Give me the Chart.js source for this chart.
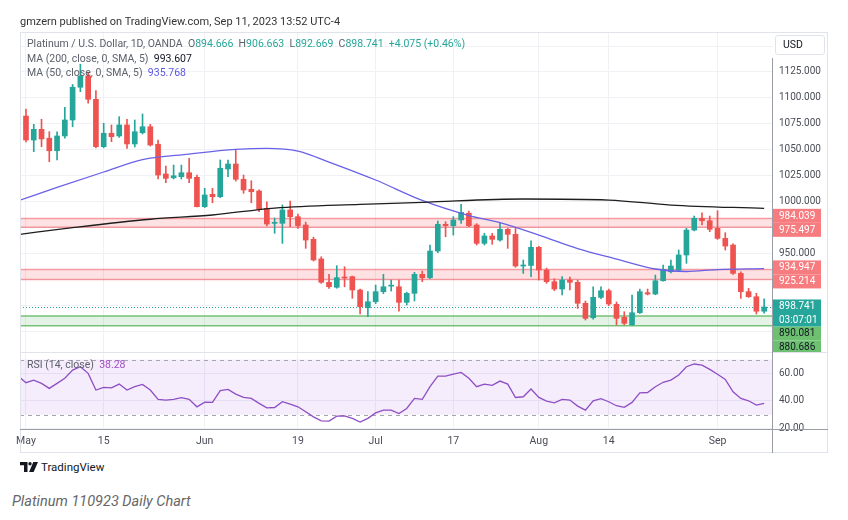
<!DOCTYPE html>
<html>
<head>
<meta charset="utf-8">
<script src="https://cdn.jsdelivr.net/npm/chart.js@4.4.0/dist/chart.umd.min.js"></script>
<style>
  body { margin: 0; background: #fff; font-family: Roboto, "DejaVu Sans", sans-serif; }
  #wrap { position: relative; width: 848px; height: 520px; overflow: hidden; background: #fff; }
  canvas { position: absolute; left: 0; }
  #main { top: 0; }
  #rsi { top: 352px; }
  .txt { position: absolute; white-space: nowrap; line-height: 14px; }
  .line { position: absolute; }
  .gray { color: #5d606b; }
</style>
</head>
<body>
<div id="wrap">
  <canvas id="main" width="848" height="352"></canvas>
  <canvas id="rsi" width="848" height="101"></canvas>

  <div class="line" style="left:20px;top:32px;width:808px;height:421px;border:1px solid #e0e3eb;box-sizing:border-box;"></div>
  <div class="line" style="left:20px;top:352px;width:808px;height:1px;background:#e0e3eb;"></div>
  <div class="line" style="left:20px;top:429px;width:808px;height:1px;background:#9a9da6;"></div>
  <div class="line" style="left:772px;top:58px;width:1px;height:395px;background:#9a9da6;"></div>

  <div class="txt" style="left:20px;top:15px;font-size:11px;color:#333;">gmzern published on TradingView.com, Sep 11, 2023 13:52 UTC-4</div>

  <div class="txt" id="leg1" style="left:27px;top:37px;font-size:10.5px;"></div>
  <div class="txt" id="leg2" style="left:27px;top:52px;font-size:10.5px;"></div>
  <div class="txt" id="leg3" style="left:27px;top:66px;font-size:10.5px;"></div>
  <div class="txt" id="leg4" style="left:27px;top:358px;font-size:10.5px;"></div>

  <div class="txt" style="left:775px;top:35px;width:50px;height:20px;border:1px solid #e0e3eb;border-radius:3px;box-sizing:border-box;font-size:10.5px;color:#131722;line-height:18px;padding-left:7px;">USD</div>

  <svg style="position:absolute;left:20px;top:462px;" width="19" height="10" viewBox="0 0 19 10">
    <path d="M0 0 H7.5 V10 H4 V3.2 H0 Z" fill="#131722"/>
    <circle cx="10" cy="1.7" r="1.7" fill="#131722"/>
    <path d="M13.3 0 H18 L13.6 10 H9.1 Z" fill="#131722"/>
  </svg>
  <div class="txt" style="left:41px;top:460px;font-size:11.5px;color:#131722;">TradingView</div>

  <div class="txt" style="left:12px;top:493px;font-size:14.5px;font-style:italic;color:#666;line-height:18px;">Platinum 110923 Daily Chart</div>
</div>

<script>
// trading days shown (Apr 28 partly cut at the left edge)
const dates = ['Apr 28','May 1','May 2','May 3','May 4','May 5','May 8','May 9','May 10','May 11','May 12',
  'May 15','May 16','May 17','May 18','May 19','May 22','May 23','May 24','May 25','May 26',
  'May 29','May 30','May 31','Jun 1','Jun 2','Jun 5','Jun 6','Jun 7','Jun 8','Jun 9',
  'Jun 12','Jun 13','Jun 14','Jun 15','Jun 16','Jun 19','Jun 20','Jun 21','Jun 22','Jun 23',
  'Jun 26','Jun 27','Jun 28','Jun 29','Jun 30','Jul 3','Jul 4','Jul 5','Jul 6','Jul 7',
  'Jul 10','Jul 11','Jul 12','Jul 13','Jul 14','Jul 17','Jul 18','Jul 19','Jul 20','Jul 21',
  'Jul 24','Jul 25','Jul 26','Jul 27','Jul 28','Jul 31','Aug 1','Aug 2','Aug 3','Aug 4',
  'Aug 7','Aug 8','Aug 9','Aug 10','Aug 11','Aug 14','Aug 15','Aug 16','Aug 17','Aug 18',
  'Aug 21','Aug 22','Aug 23','Aug 24','Aug 25','Aug 28','Aug 29','Aug 30','Aug 31','Sep 1',
  'Sep 4','Sep 5','Sep 6','Sep 7','Sep 8','Sep 11'];

const open = [1089.4, 1082.6, 1059.5, 1069.8, 1061.2, 1049.2, 1063.4, 1078.8, 1110.3, 1121.1, 1098.7,
  1053.1, 1066.0, 1063.4, 1074.0, 1055.7, 1066.5, 1072.3, 1055.4, 1026.8, 1023.1,
  1024.2, 1028.0, 1023.6, 995.3, 1007.2, 1004.9, 1031.6, 1036.4, 1021.7, 1012.0,
  1010.4, 993.7, 979.3, 979.3, 992.2, 985.7, 977.7, 963.9, 945.0, 922.5,
  917.7, 927.6, 927.9, 915.1, 898.0, 903.8, 913.5, 918.8, 918.2, 903.2,
  911.9, 930.2, 926.9, 952.6, 978.3, 977.0, 982.5, 989.0, 977.7, 960.0,
  967.1, 963.2, 973.5, 968.7, 938.2, 938.7, 956.2, 934.3, 923.1, 916.0,
  924.7, 922.5, 902.3, 888.4, 908.0, 914.4, 901.3, 888.8, 881.6, 893.2,
  912.5, 911.2, 924.0, 932.7, 934.3, 948.8, 972.8, 984.1, 981.8, 974.5,
  964.8, 958.4, 931.1, 913.5, 908.6, 894.666];
const high = [1092.0, 1089.4, 1074.6, 1079.5, 1067.5, 1067.5, 1091.0, 1113.0, 1132.5, 1123.7, 1107.0,
  1075.6, 1074.0, 1082.0, 1079.5, 1078.8, 1084.6, 1074.6, 1059.5, 1034.5, 1035.4,
  1035.4, 1041.9, 1025.8, 1013.0, 1013.0, 1040.3, 1040.3, 1049.9, 1025.8, 1020.3,
  1011.5, 1000.1, 984.4, 997.0, 1000.8, 988.3, 980.5, 966.0, 947.1, 930.2,
  938.5, 937.5, 928.5, 916.0, 913.5, 919.9, 930.2, 924.7, 924.7, 913.0,
  932.1, 933.4, 958.4, 981.5, 980.8, 985.7, 997.6, 991.1, 979.0, 969.7,
  969.7, 979.3, 974.5, 974.5, 944.0, 962.5, 957.2, 936.2, 926.0, 928.0,
  927.6, 924.7, 904.5, 918.2, 918.2, 916.0, 903.5, 894.2, 910.3, 916.0,
  916.0, 929.5, 939.1, 944.0, 953.6, 974.5, 986.3, 989.5, 986.3, 991.4,
  970.3, 959.5, 932.5, 916.7, 911.9, 906.663];
const low = [1080.5, 1057.6, 1048.3, 1053.1, 1038.6, 1040.3, 1061.2, 1072.3, 1106.0, 1094.9, 1052.0,
  1052.0, 1057.9, 1062.0, 1051.5, 1052.8, 1065.3, 1053.7, 1022.0, 1018.4, 1022.0,
  1022.0, 1018.4, 995.0, 994.5, 999.1, 1004.0, 1024.2, 1020.0, 1008.2, 999.1,
  990.5, 976.7, 969.7, 960.0, 976.0, 974.5, 955.2, 943.0, 921.5, 916.5,
  916.8, 918.2, 907.1, 892.0, 889.4, 902.0, 911.5, 914.1, 894.8, 900.6,
  904.5, 923.1, 926.0, 951.0, 966.4, 968.0, 979.3, 976.0, 958.4, 958.4,
  959.1, 962.0, 955.2, 937.0, 931.1, 927.9, 924.7, 921.5, 914.5, 910.3,
  915.1, 897.4, 886.2, 887.0, 906.8, 900.0, 881.4, 881.5, 881.0, 892.5,
  910.3, 910.5, 923.5, 931.5, 933.5, 940.8, 972.0, 977.7, 971.2, 963.8,
  953.6, 930.2, 907.1, 908.0, 892.0, 892.669];
const close = [1081.7, 1059.5, 1069.8, 1060.5, 1049.2, 1063.4, 1078.8, 1110.3, 1121.1, 1098.7, 1053.1,
  1066.0, 1062.7, 1074.0, 1055.7, 1067.5, 1072.3, 1054.7, 1025.8, 1022.6, 1025.1,
  1028.0, 1022.6, 995.3, 1006.6, 1004.9, 1032.3, 1036.4, 1021.7, 1011.4, 1009.7,
  992.8, 978.6, 979.9, 992.2, 985.7, 977.0, 963.2, 944.0, 922.5, 918.2,
  927.0, 926.6, 915.1, 899.0, 903.8, 913.5, 918.2, 919.4, 903.2, 911.9,
  930.2, 926.9, 952.6, 978.3, 977.0, 982.5, 989.9, 977.0, 960.0, 967.1,
  963.9, 973.5, 968.7, 938.2, 938.7, 956.2, 934.3, 923.1, 916.0, 924.7,
  922.5, 902.3, 887.8, 908.0, 914.4, 901.6, 887.8, 883.0, 893.2, 913.5,
  911.2, 924.0, 935.0, 938.2, 948.8, 972.8, 984.1, 981.8, 973.5, 964.8,
  957.4, 931.1, 913.5, 908.6, 894.666, 898.741];

// moving averages, read at a few bars along each curve
const ma200Dates = ['Apr 28','May 9','May 23','Jun 2','Jun 14','Jun 29','Jul 11','Jul 28','Aug 14','Aug 24','Sep 11'];
const ma200 = [968.5, 975.1, 983.2, 987.3, 994.0, 997.6, 999.5, 1002.7, 1001.7, 996.9, 993.607];
const ma50Dates = ['Apr 28','May 5','May 15','May 22','May 30','Jun 7','Jun 13','Jun 19','Jun 23','Jul 3','Jul 11',
  'Jul 19','Jul 25','Aug 1','Aug 8','Aug 15','Aug 22','Aug 28','Sep 1','Sep 11'];
const ma50 = [1001.1, 1013.8, 1028.7, 1040.7, 1046.0, 1050.4, 1051.5, 1048.9, 1038.3, 1021.0, 1001.3,
  986.8, 979.9, 968.0, 955.0, 944.9, 935.3, 932.9, 934.8, 935.768];

const rsi = [58.0, 53.2, 55.1, 52.7, 49.1, 52.7, 56.4, 62.4, 64.8, 60.0, 47.9,
  49.8, 49.5, 52.2, 47.9, 50.3, 52.0, 47.9, 41.1, 40.6, 41.1,
  42.3, 41.1, 35.7, 39.1, 38.9, 47.4, 48.4, 44.9, 42.5, 41.8,
  38.2, 35.0, 35.2, 39.4, 37.7, 35.7, 32.1, 28.4, 25.5, 25.3,
  28.9, 29.1, 27.3, 24.6, 27.3, 31.3, 33.3, 33.3, 30.8, 34.5,
  41.8, 41.1, 50.3, 58.0, 58.0, 59.5, 60.7, 56.4, 50.3, 52.2,
  51.3, 54.4, 52.2, 42.5, 43.0, 48.6, 42.5, 39.9, 38.6, 41.1,
  40.6, 36.2, 33.3, 40.1, 41.6, 39.4, 36.5, 35.3, 38.9, 45.9,
  46.1, 50.3, 53.5, 55.1, 58.8, 64.8, 66.8, 66.0, 62.9, 59.3,
  55.6, 46.6, 41.8, 40.1, 37.0, 38.28];

// price zones drawn as rectangles
const zoneHigh = [984.039, 934.947, 890.081];
const zoneLow = [975.497, 925.214, 880.686];

const timeTickDates = ['May 1','May 15','Jun 1','Jun 19','Jul 3','Jul 17','Aug 1','Aug 14','Sep 1'];
const timeTickLabels = ['May','15','Jun','19','Jul','17','Aug','14','Sep'];
const priceTicks = [875, 900, 925, 950, 975, 1000, 1025, 1050, 1075, 1100, 1125, 1150];
const priceTicksShown = [950, 1000, 1025, 1050, 1075, 1100, 1125];
const rsiTicks = [20, 40, 60];
const rsiBands = [30, 70];
const countdown = '03:07:01';

const UP = '#26a69a', DOWN = '#ef5350';
const zoneFill = ['rgba(242,54,69,0.15)', 'rgba(242,54,69,0.15)', 'rgba(76,175,80,0.15)'];
const zoneLine = ['rgba(242,54,69,0.45)', 'rgba(242,54,69,0.45)', 'rgba(76,175,80,0.75)'];
const zoneLabelBg = ['#f77c80', '#f77c80', '#6cc070'];
const zoneLabelFg = ['#fff', '#fff', '#131722'];

const last = close.length - 1;
const idx = d => dates.indexOf(d);
const xMin = 1 - 0.77, xMax = 97.14;
const tickIdx = timeTickDates.map(idx);
const candleColor = i => close[i] >= open[i] ? UP : DOWN;
const gridColor = '#eff1f5';

// legend texts from the data
const fmt = v => v.toFixed(3);
const chg = close[last] - close[last - 1];
const pct = chg / close[last - 1] * 100;
const c = s => `<span style="color:${UP}">${s}</span>`;
document.getElementById('leg1').innerHTML =
  `<span class="gray">Platinum / U.S. Dollar, 1D, OANDA</span>&nbsp;&nbsp;` +
  `<span class="gray">O</span>${c(fmt(open[last]))}&nbsp;&nbsp;<span class="gray">H</span>${c(fmt(high[last]))}&nbsp;&nbsp;` +
  `<span class="gray">L</span>${c(fmt(low[last]))}&nbsp;&nbsp;<span class="gray">C</span>${c(fmt(close[last]))}&nbsp;&nbsp;` +
  c(`+${fmt(chg)} (+${pct.toFixed(2)}%)`);
document.getElementById('leg2').innerHTML =
  `<span class="gray">MA (200, close, 0, SMA, 5)</span>&nbsp;&nbsp;<span style="color:#131722">${fmt(ma200[ma200.length - 1])}</span>`;
document.getElementById('leg3').innerHTML =
  `<span class="gray">MA (50, close, 0, SMA, 5)</span>&nbsp;&nbsp;<span style="color:#5b57e0">${fmt(ma50[ma50.length - 1])}</span>`;
document.getElementById('leg4').innerHTML =
  `<span class="gray">RSI (14, close)</span>&nbsp;&nbsp;<span style="color:#a04cc6">${rsi[last].toFixed(2)}</span>`;

const zonesPlugin = {
  id: 'zones',
  beforeDatasetsDraw(chart) {
    const {ctx, chartArea: a, scales: {y}} = chart;
    ctx.save();
    zoneHigh.forEach((hi, k) => {
      const y1 = y.getPixelForValue(hi), y2 = y.getPixelForValue(zoneLow[k]);
      ctx.fillStyle = zoneFill[k];
      ctx.fillRect(a.left, y1, a.width, y2 - y1);
      ctx.strokeStyle = zoneLine[k];
      ctx.lineWidth = 1.5;
      ctx.beginPath();
      ctx.moveTo(a.left, y1); ctx.lineTo(a.right, y1);
      ctx.moveTo(a.left, y2); ctx.lineTo(a.right, y2);
      ctx.stroke();
    });
    const yp = Math.round(y.getPixelForValue(close[last])) + 0.5;
    ctx.setLineDash([1, 2]);
    ctx.strokeStyle = UP;
    ctx.lineWidth = 1;
    ctx.beginPath(); ctx.moveTo(a.left, yp); ctx.lineTo(a.right, yp); ctx.stroke();
    ctx.restore();
  }
};

const priceLabelsPlugin = {
  id: 'priceLabels',
  afterDraw(chart) {
    const {ctx, chartArea: a, scales: {y}} = chart;
    const h = 14, w = 48, x0 = a.right;
    const yp = y.getPixelForValue(close[last]);
    const curTop = yp - 7.5, curBot = curTop + 2 * h - 1;
    ctx.save();
    ctx.font = '10px Roboto, sans-serif';
    ctx.textBaseline = 'middle';
    zoneHigh.forEach((hi, k) => {
      const yh = y.getPixelForValue(hi), yl = y.getPixelForValue(zoneLow[k]);
      const mid = (yh + yl) / 2;
      const apart = yl - yh >= h;
      let top = apart ? yh - h / 2 : mid - h;
      const bottom = apart ? yl + h / 2 : top + 2 * h;
      if (top < curBot && bottom > curTop) {
        top = mid > yp ? curBot : curTop - 2 * h;
      }
      [hi, zoneLow[k]].forEach((v, j) => {
        const t = apart ? y.getPixelForValue(v) - h / 2 : top + j * h;
        ctx.fillStyle = zoneLabelBg[k];
        ctx.fillRect(x0, t, w, h);
        ctx.fillStyle = zoneLabelFg[k];
        ctx.fillText(fmt(v), x0 + 6, t + h / 2 + 0.5);
      });
    });
    ctx.fillStyle = UP;
    ctx.fillRect(x0, curTop, w, curBot - curTop);
    ctx.fillStyle = '#fff';
    ctx.fillText(fmt(close[last]), x0 + 6, curTop + h / 2 + 0.5);
    ctx.fillText(countdown, x0 + 6, curTop + h * 1.5);
    ctx.restore();
  }
};

const rsiBandPlugin = {
  id: 'rsiBand',
  beforeDatasetsDraw(chart) {
    const {ctx, chartArea: a, scales: {y}} = chart;
    const y1 = y.getPixelForValue(rsiBands[1]), y2 = y.getPixelForValue(rsiBands[0]);
    ctx.save();
    ctx.fillStyle = 'rgba(160,80,230,0.11)';
    ctx.fillRect(a.left, y1, a.width, y2 - y1);
    ctx.strokeStyle = '#a3a6af';
    ctx.lineWidth = 1;
    ctx.setLineDash([4, 4]);
    [y1, y2].forEach(v => {
      const p = Math.round(v) + 0.5;
      ctx.beginPath(); ctx.moveTo(a.left, p); ctx.lineTo(a.right, p); ctx.stroke();
    });
    ctx.restore();
  }
};

const noPad = s => { s.paddingTop = 0; s.paddingBottom = 0; s.paddingLeft = 0; s.paddingRight = 0; };

const xScale = (showLabels) => ({
  type: 'linear',
  offset: false,
  min: xMin,
  max: xMax,
  afterBuildTicks: s => { s.ticks = tickIdx.map(v => ({value: v})); },
  grid: {color: gridColor, drawTicks: false, offset: false},
  border: {display: false},
  ticks: {
    display: showLabels,
    autoSkip: false,
    maxRotation: 0,
    padding: 6,
    color: '#4a4d57',
    font: {family: 'Roboto', size: 10.5},
    callback: v => timeTickLabels[tickIdx.indexOf(v)] ?? ''
  },
  afterFit: s => { s.height = showLabels ? 24 : 0; noPad(s); }
});

const yScale = (min, max, ticks, label) => ({
  position: 'right',
  min, max,
  afterBuildTicks: s => { s.ticks = ticks.map(v => ({value: v})); },
  grid: {color: gridColor, drawTicks: false},
  border: {display: false},
  ticks: {
    padding: 6,
    color: '#4a4d57',
    font: {family: 'Roboto', size: 10},
    callback: label
  },
  afterFit: s => { s.width = 55; noPad(s); }
});

new Chart(document.getElementById('main'), {
  type: 'bar',
  data: {
    datasets: [
      {
        type: 'line',
        data: ma200Dates.map((d, k) => ({x: idx(d), y: ma200[k]})),
        borderColor: '#1e1e1e', borderWidth: 1.3, pointRadius: 0,
        cubicInterpolationMode: 'monotone', order: 0
      },
      {
        type: 'line',
        data: ma50Dates.map((d, k) => ({x: idx(d), y: ma50[k]})),
        borderColor: '#6a62e6', borderWidth: 1.3, pointRadius: 0,
        cubicInterpolationMode: 'monotone', order: 0
      },
      {
        data: dates.map((d, i) => ({x: i, y: [open[i], close[i]]})),
        backgroundColor: ctx => candleColor(ctx.dataIndex),
        barThickness: 5, minBarLength: 1, grouped: false, order: 1
      },
      {
        data: dates.map((d, i) => ({x: i, y: [low[i], high[i]]})),
        backgroundColor: ctx => candleColor(ctx.dataIndex),
        barThickness: 1, grouped: false, order: 2
      }
    ]
  },
  options: {
    responsive: false,
    animation: false,
    events: [],
    layout: {padding: {left: 20, right: 20, top: 32, bottom: 0}},
    plugins: {legend: {display: false}, tooltip: {enabled: false}},
    scales: {
      x: xScale(false),
      y: yScale(855.4, 1163.5, priceTicks, v => priceTicksShown.includes(v) ? v.toFixed(3) : '')
    }
  },
  plugins: [zonesPlugin, priceLabelsPlugin]
});

new Chart(document.getElementById('rsi'), {
  type: 'line',
  data: {
    datasets: [{
      data: dates.map((d, i) => ({x: i, y: rsi[i]})),
      borderColor: '#8e4fc4', borderWidth: 1.3, pointRadius: 0, tension: 0
    }]
  },
  options: {
    responsive: false,
    animation: false,
    events: [],
    layout: {padding: {left: 20, right: 20, top: 0, bottom: 0}},
    plugins: {legend: {display: false}, tooltip: {enabled: false}},
    scales: {
      x: xScale(true),
      y: yScale(19.6, 75.5, rsiTicks, v => v.toFixed(2))
    }
  },
  plugins: [rsiBandPlugin]
});
</script>
</body>
</html>
